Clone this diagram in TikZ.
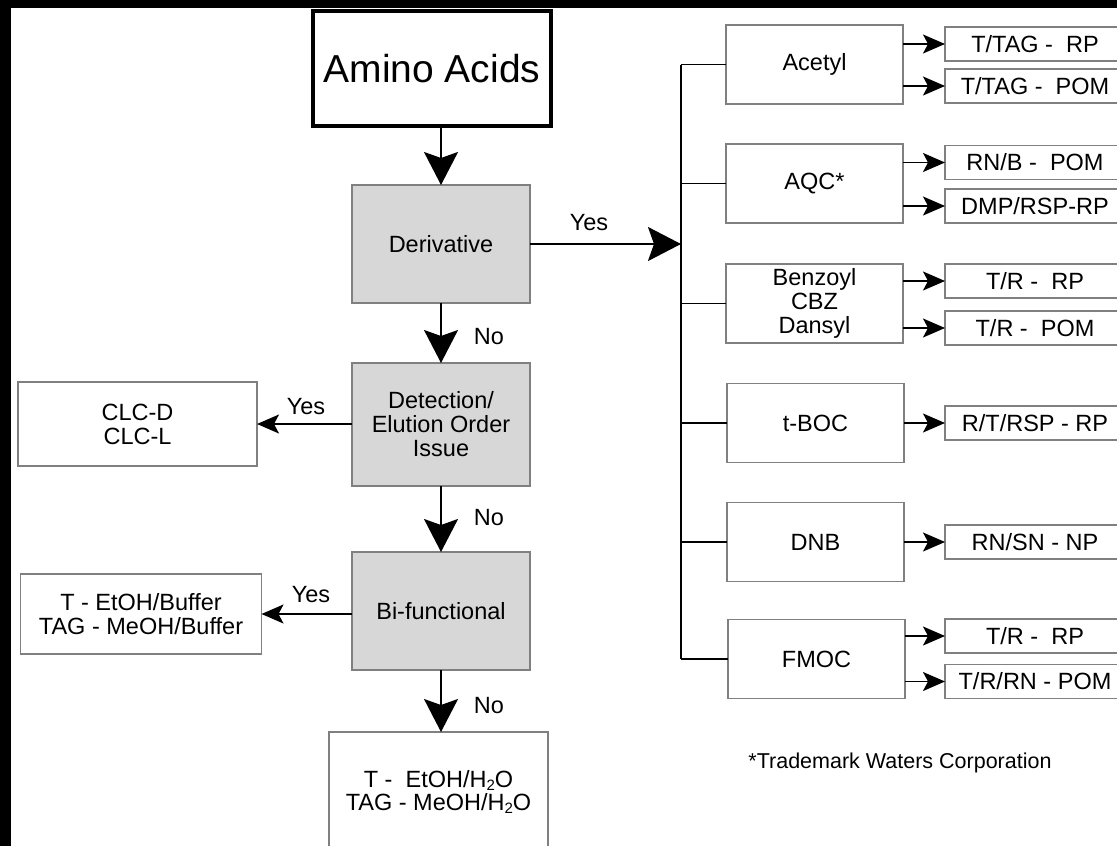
\documentclass[tikz,border=0pt]{standalone}
\usepackage{fontspec}
\setmainfont{Liberation Sans}
\usetikzlibrary{arrows.meta}
\definecolor{boxgray}{HTML}{808080}
\definecolor{shadefill}{HTML}{D7D7D7}
\newcommand\htwoo{H\raisebox{-0.12em}{\fontsize{15}{15}\selectfont 2}O}
\begin{document}
\begin{tikzpicture}[x=1pt,y=-1pt,
  font=\fontsize{23.5}{24}\selectfont,
  box/.style={draw=boxgray,line width=1.2pt,align=center,inner sep=0pt,outer sep=0pt},
  shadebox/.style={box,fill=shadefill,minimum width=178pt},
  midbox/.style={box,minimum width=177pt,minimum height=79pt},
  outbox/.style={box,minimum width=180pt,minimum height=34pt},
  conn/.style={line width=1.8pt},
  bigarrow/.style={line width=1.8pt,-{Stealth[length=33pt,width=34pt,inset=6pt]}},
  smallarrow/.style={line width=1.6pt,-{Stealth[length=22pt,width=19pt,inset=5pt]}},
  lab/.style={inner sep=0pt}]
\useasboundingbox (0,0) rectangle (1117,846);
\fill[white] (0,0) rectangle (1117,846);
\fill[black] (0,0) rectangle (1117,8);
\fill[black] (0,0) rectangle (11,846);

% left column
\node[draw=black,line width=3.5pt,minimum width=238pt,minimum height=115pt,inner sep=0pt,outer sep=0pt]
  (amino) at (432,68.5) {\fontsize{39}{40}\selectfont Amino Acids};
\node[shadebox,minimum height=118pt] (deriv) at (441,244) {Derivative};
\node[shadebox,minimum height=123pt] (detect) at (441,424.5) {Detection/\\Elution Order\\Issue};
\node[shadebox,minimum height=118pt] (bi) at (441,611) {Bi-functional};
\node[box,minimum width=219pt,minimum height=120pt] (final) at (438.5,792) {\raisebox{-4pt}{\shortstack{T -\ \ EtOH/\htwoo\\TAG - MeOH/\htwoo}}};
\node[box,minimum width=239pt,minimum height=84pt] (clc) at (137.5,424) {CLC-D\\CLC-L};
\node[box,minimum width=241pt,minimum height=80pt] (buf) at (141,614) {T - EtOH/Buffer\\TAG - MeOH/Buffer};

\draw[bigarrow] (deriv.north |- amino.south) -- (deriv.north);
\draw[bigarrow] (deriv.south) -- (detect.north);
\draw[bigarrow] (detect.south) -- (bi.north);
\draw[bigarrow] (bi.south) -- (final.north -| bi.south);
\draw[smallarrow] (detect.west |- clc.east) -- (clc.east);
\draw[smallarrow] (bi.west |- buf.east) -- (buf.east);

\node[lab] (yes1) at (589,223) {Yes};
\node[lab] (no1) at (489,337) {No};
\node[lab] (no2) at (489,518) {No};
\node[lab] (no3) at (489,706) {No};
\node[lab] (yes2) at (306,407) {Yes};
\node[lab] (yes3) at (311,595) {Yes};

% right column
\node[midbox] (acetyl) at (814.5,64.5) {Acetyl};
\node[midbox] (aqc) at (814.5,183.5) {AQC*};
\node[midbox] (benz) at (814.5,303.5) {Benzoyl\\CBZ\\Dansyl};
\node[midbox] (tboc) at (815.5,423) {t-BOC};
\node[midbox] (dnb) at (815.5,542) {DNB};
\node[midbox] (fmoc) at (816.5,659) {FMOC};

\coordinate (bar) at (681,0);
\coordinate (bartop) at (bar |- acetyl.west);
\coordinate (barbot) at (bar |- fmoc.west);
\draw[line width=2.4pt] (bartop) -- (barbot);
\draw[bigarrow] (deriv.east) -- (bar |- deriv.east);
\foreach \n in {acetyl,aqc,benz,tboc,dnb,fmoc}
  \draw[conn] (bar |- \n.west) -- (\n.west);

\node[outbox] (o1) at (1035,44) {T/TAG -\ \ RP};
\node[outbox] (o2) at (1035,86) {T/TAG -\ \ POM};
\node[outbox] (o3) at (1035,162.5) {RN/B -\ \ POM};
\node[outbox] (o4) at (1035,206) {DMP/RSP-RP};
\node[outbox] (o5) at (1035,281) {T/R -\ \ RP};
\node[outbox] (o6) at (1035,328) {T/R -\ \ POM};
\node[outbox] (o7) at (1035,423) {R/T/RSP - RP};
\node[outbox] (o8) at (1035,542) {RN/SN - NP};
\node[outbox] (o9) at (1035,636) {T/R -\ \ RP};
\node[outbox] (o10) at (1035,681.5) {T/R/RN - POM};

\draw[smallarrow] (acetyl.east |- o1.west) -- (o1.west);
\draw[smallarrow] (acetyl.east |- o2.west) -- (o2.west);
\draw[smallarrow] (aqc.east |- o3.west) -- (o3.west);
\draw[smallarrow] (aqc.east |- o4.west) -- (o4.west);
\draw[smallarrow] (benz.east |- o5.west) -- (o5.west);
\draw[smallarrow] (benz.east |- o6.west) -- (o6.west);
\draw[smallarrow] (tboc.east |- o7.west) -- (o7.west);
\draw[smallarrow] (dnb.east |- o8.west) -- (o8.west);
\draw[smallarrow] (fmoc.east |- o9.west) -- (o9.west);
\draw[smallarrow] (fmoc.east |- o10.west) -- (o10.west);

\node[lab,font=\fontsize{21.5}{22}\selectfont] (note) at (900,763) {*Trademark Waters Corporation};
\end{tikzpicture}
\end{document}
